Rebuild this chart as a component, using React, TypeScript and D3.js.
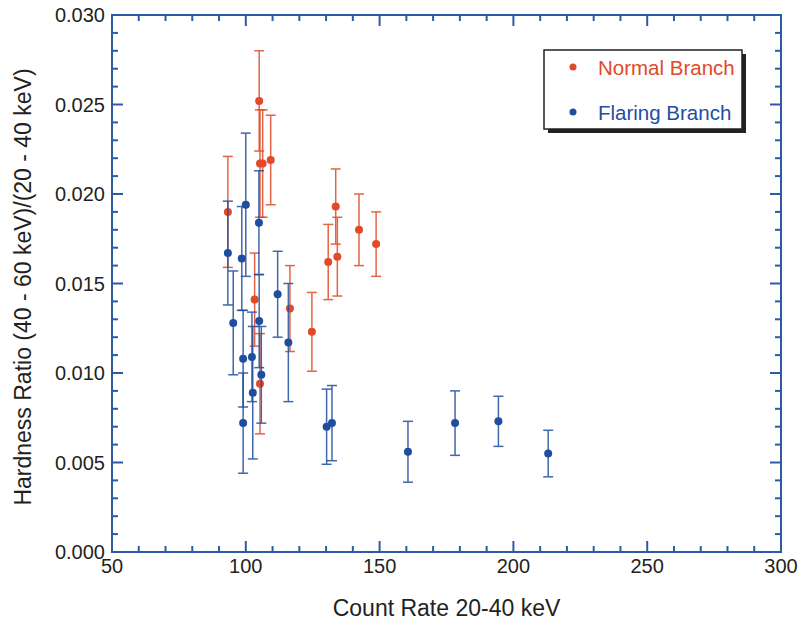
import React from "react";
import * as d3 from "d3";

// Normal Branch (red)
const normalX = [93.3, 103.3, 105.3, 105.0, 105.3, 106.3, 109.3, 116.5, 124.7, 130.8, 133.6, 134.2, 142.3, 148.7];
const normalY = [0.0190, 0.0141, 0.0094, 0.0252, 0.0217, 0.0217, 0.0219, 0.0136, 0.0123, 0.0162, 0.0193, 0.0165, 0.0180, 0.0172];
const normalErr = [0.0031, 0.0026, 0.0028, 0.0028, 0.0030, 0.0030, 0.0025, 0.0024, 0.0022, 0.0021, 0.0021, 0.0022, 0.0020, 0.0018];

// Flaring Branch (blue)
const flaringX = [93.3, 95.3, 98.5, 100.0, 99.0, 99.0, 102.3, 102.6, 104.9, 105.0, 105.8, 111.9, 115.9, 130.2, 132.2, 160.6, 178.2, 194.4, 213.0];
const flaringY = [0.0167, 0.0128, 0.0164, 0.0194, 0.0108, 0.0072, 0.0109, 0.0089, 0.0184, 0.0129, 0.0099, 0.0144, 0.0117, 0.0070, 0.0072, 0.0056, 0.0072, 0.0073, 0.0055];
const flaringErr = [0.0029, 0.0029, 0.0029, 0.0040, 0.0027, 0.0028, 0.0025, 0.0037, 0.0029, 0.0026, 0.0027, 0.0024, 0.0033, 0.0021, 0.0021, 0.0017, 0.0018, 0.0014, 0.0013];

const xTicks = [50, 100, 150, 200, 250, 300];
const yTicks = [0.0, 0.005, 0.01, 0.015, 0.02, 0.025, 0.03];

const legendLabels = ["Normal Branch", "Flaring Branch"];

const RED = "#e04a28";
const BLUE = "#1f4e9f";
const AXIS = "#2b5ba8";
const FONT = "'Liberation Sans', Arial, Helvetica, sans-serif";

export default function App() {
  const left = 112, right = 781, top = 15, bottom = 552;
  const x = d3.scaleLinear().domain([50, 300]).range([left, right]);
  const y = d3.scaleLinear().domain([0, 0.03]).range([bottom, top]);

  const xMinor = d3.range(50, 300.001, 10);
  const yMinor = d3.range(0, 0.03001, 0.001);

  const series = [
    { xs: normalX, ys: normalY, es: normalErr, color: RED },
    { xs: flaringX, ys: flaringY, es: flaringErr, color: BLUE },
  ];

  const isMajorX = (v: number) => Math.abs(v / 50 - Math.round(v / 50)) < 1e-6;
  const isMajorY = (v: number) => Math.abs(v / 0.005 - Math.round(v / 0.005)) < 1e-6;

  return (
    <svg width={800} height={621} style={{ position: "absolute", left: 0, top: 0, background: "#fff" }} fontFamily={FONT}>
      <rect x={0} y={0} width={800} height={621} fill="#fff" />
      {/* data */}
      {series.map((s, si) => (
        <g key={si}>
          {s.xs.map((xv, i) => {
            const cx = x(xv);
            const y1 = y(s.ys[i] + s.es[i]);
            const y2 = y(s.ys[i] - s.es[i]);
            return (
              <g key={i} stroke={s.color} strokeWidth={1.5} opacity={0.85}>
                <line x1={cx} x2={cx} y1={y1} y2={y2} />
                <line x1={cx - 5} x2={cx + 5} y1={y1} y2={y1} />
                <line x1={cx - 5} x2={cx + 5} y1={y2} y2={y2} />
              </g>
            );
          })}
          {s.xs.map((xv, i) => (
            <circle key={"c" + i} cx={x(xv)} cy={y(s.ys[i])} r={4} fill={s.color} />
          ))}
        </g>
      ))}

      {/* frame */}
      <rect x={left} y={top} width={right - left} height={bottom - top} fill="none" stroke={AXIS} strokeWidth={2} />
      {xMinor.map((v, i) => {
        const len = isMajorX(v) ? 11 : 6;
        const px = x(v);
        return (
          <g key={"xt" + i} stroke={AXIS} strokeWidth={2}>
            <line x1={px} x2={px} y1={bottom} y2={bottom - len} />
            <line x1={px} x2={px} y1={top} y2={top + len} />
          </g>
        );
      })}
      {yMinor.map((v, i) => {
        const len = isMajorY(v) ? 11 : 6;
        const py = y(v);
        return (
          <g key={"yt" + i} stroke={AXIS} strokeWidth={2}>
            <line x1={left} x2={left + len} y1={py} y2={py} />
            <line x1={right} x2={right - len} y1={py} y2={py} />
          </g>
        );
      })}

      {/* tick labels */}
      {xTicks.map((v) => (
        <text key={"xl" + v} x={x(v)} y={573} textAnchor="middle" fontSize={20} fill="#231f20">
          {v}
        </text>
      ))}
      {yTicks.map((v) => (
        <text key={"yl" + v} x={105} y={y(v)} dy="0.35em" textAnchor="end" fontSize={20} fill="#231f20">
          {d3.format(".3f")(v)}
        </text>
      ))}

      {/* axis titles */}
      <text x={(left + right) / 2} y={616} textAnchor="middle" fontSize={23} fill="#231f20">
        Count Rate 20-40 keV
      </text>
      <text transform={`translate(31,${287}) rotate(-90)`} textAnchor="middle" fontSize={23} fill="#231f20">
        Hardness Ratio (40 - 60 keV)/(20 - 40 keV)
      </text>

      {/* legend */}
      <rect x={548} y={54} width={198} height={79} fill="#222" />
      <rect x={544} y={50} width={198} height={79} fill="#fff" stroke="#222" strokeWidth={1.5} />
      {legendLabels.map((lab, i) => (
        <g key={lab}>
          <circle cx={573} cy={67 + i * 45} r={3.5} fill={i === 0 ? RED : BLUE} />
          <text x={598} y={75 + i * 45} fontSize={20.5} fill={i === 0 ? RED : BLUE}>
            {lab}
          </text>
        </g>
      ))}
    </svg>
  );
}
